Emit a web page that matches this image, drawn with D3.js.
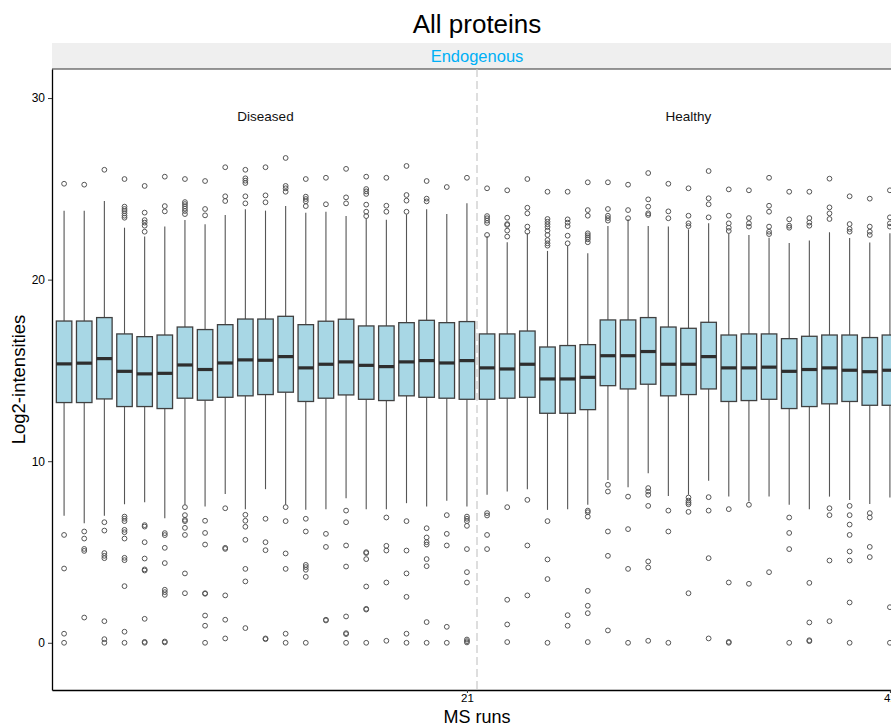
<!DOCTYPE html>
<html>
<head>
<meta charset="utf-8">
<script src="https://cdn.jsdelivr.net/npm/d3@7"></script>
<style>
  html, body { margin: 0; padding: 0; background: #fff; overflow: hidden; }
  svg { display: block; font-family: "Liberation Sans", Arial, Helvetica, sans-serif; }
</style>
</head>
<body>
<svg id="chart" width="891" height="726"></svg>
<script>
// MS run index, 1..42
const runs = d3.range(1, 43);

// Box statistics per run (log2 intensity)
const q3 = [17.72,17.72,17.91,17.01,16.86,16.95,17.39,17.25,17.52,17.83,17.83,17.98,17.52,17.71,17.82,17.45,17.45,17.63,17.76,17.63,17.69,
            17.01,17.01,17.17,16.29,16.37,16.42,17.78,17.78,17.91,17.39,17.32,17.65,16.95,17.01,17.01,16.75,16.88,16.95,16.95,16.81,16.95];
const medians = [15.36,15.40,15.65,14.95,14.81,14.84,15.30,15.05,15.41,15.58,15.56,15.76,15.14,15.34,15.47,15.28,15.21,15.47,15.54,15.41,15.54,
            15.14,15.08,15.34,14.53,14.53,14.62,15.81,15.81,16.04,15.34,15.34,15.76,15.14,15.14,15.18,14.95,15.05,15.14,15.01,14.93,15.01];
const q1 = [13.23,13.23,13.43,13.01,13.01,12.90,13.47,13.36,13.52,13.60,13.67,13.80,13.29,13.47,13.65,13.41,13.34,13.60,13.52,13.47,13.41,
            13.41,13.47,13.52,12.64,12.64,12.84,14.16,13.98,14.24,13.60,13.67,13.98,13.29,13.34,13.41,12.90,13.01,13.16,13.29,13.08,13.08];
const whiskerHigh = [23.80,23.80,24.33,22.86,22.37,22.92,23.28,23.05,23.56,23.87,23.80,24.05,23.69,23.74,23.50,23.38,23.30,23.60,23.87,23.61,24.20,
            22.40,22.06,22.55,21.58,21.87,21.45,22.95,23.32,22.95,22.92,22.77,23.10,22.55,22.46,22.31,22.02,22.15,22.61,22.29,22.04,22.55];
const whiskerLow = [6.99,6.59,6.99,7.63,7.74,6.86,7.60,7.50,8.20,7.36,8.46,7.60,7.32,7.36,7.96,7.36,7.36,7.69,7.50,7.82,7.50,
            8.15,8.33,8.46,7.32,7.36,7.60,8.97,8.57,9.34,8.09,8.15,8.92,8.05,7.78,8.05,7.60,7.36,8.05,7.87,7.65,8.00];

// Outlying values per run
const outliers = [
  [25.28,5.94,4.09,0.50,0.0],
  [25.23,6.13,5.74,5.17,5.06,1.39],
  [26.05,6.64,6.18,4.94,4.79,4.66,1.19,0.20,0.0],
  [25.54,24.02,23.89,23.78,23.65,23.52,23.41,6.95,6.83,6.70,6.22,6.09,5.74,4.68,4.55,3.12,0.61,0.0],
  [25.16,23.69,23.28,23.14,22.97,22.64,6.48,6.40,5.54,4.64,4.04,3.98,1.32,0.05,0.0],
  [25.67,24.05,23.76,6.04,5.93,5.23,4.39,2.92,2.79,2.64,0.07,0.02],
  [25.54,24.27,24.16,24.04,23.91,23.78,23.61,7.47,7.03,6.77,6.70,6.33,5.94,3.82,2.73],
  [25.43,23.89,23.54,6.72,6.05,5.41,2.73,2.70,1.50,0.94,0.0],
  [26.19,24.59,24.33,7.41,5.23,5.17,2.61,1.27,0.24],
  [26.05,25.58,25.45,25.32,24.59,24.20,7.05,6.72,6.39,5.67,4.07,3.38,0.81],
  [26.19,24.64,24.26,6.83,5.54,5.10,0.24,0.20],
  [26.70,25.16,25.03,24.84,7.47,6.70,4.92,4.07,0.50,0.0],
  [25.54,24.57,24.44,24.31,24.05,6.83,6.13,4.29,4.17,4.02,3.63,0.0],
  [25.61,24.15,6.00,5.28,1.27,1.23],
  [26.10,24.53,24.20,7.28,6.64,5.36,4.20,1.45,0.53,0.48,0.0],
  [25.67,24.99,24.86,24.72,24.13,23.74,23.50,4.99,4.94,4.61,3.10,1.87,1.83,0.0],
  [25.61,24.07,23.74,6.90,5.34,5.08,3.32,0.11],
  [26.26,24.66,24.35,23.74,6.70,5.08,3.82,2.53,0.50,0.0],
  [25.43,24.46,24.31,6.31,5.80,5.54,5.41,4.61,4.22,1.14,0.0],
  [25.10,7.03,6.00,5.36,0.88,0.0],
  [25.61,6.95,6.83,6.70,6.44,5.16,3.89,3.32,0.18,0.09,0.02],
  [25.03,23.50,23.38,23.25,23.12,22.46,7.14,7.01,5.94,5.16],
  [24.92,23.41,23.06,23.01,22.70,22.37,7.47,2.37,1.01,0.04],
  [25.54,23.96,23.65,22.92,22.64,7.87,5.36,2.61],
  [24.84,23.34,23.19,23.05,22.90,22.70,22.46,22.18,22.00,21.87,6.70,4.59,3.51,0.0],
  [24.84,23.32,23.14,22.95,22.42,22.00,1.52,0.94],
  [25.36,23.83,23.52,22.55,22.44,22.33,22.22,22.06,7.28,7.19,6.95,2.86,2.04,1.63,0.04],
  [25.36,23.89,23.52,23.39,23.25,8.70,8.33,6.13,4.79,0.68],
  [25.23,23.83,23.38,8.05,6.26,4.07,0.0],
  [25.87,24.42,24.02,23.65,23.56,8.52,8.33,8.15,7.54,4.48,4.15,0.11],
  [25.28,23.76,23.38,7.28,6.13,0.0],
  [25.03,23.52,23.10,22.95,8.00,7.83,7.72,7.63,7.21,2.73],
  [25.98,24.48,24.15,23.43,8.02,7.28,4.66,0.24],
  [24.97,23.52,23.10,22.86,22.68,7.36,3.32,0.05,0.0],
  [24.92,23.39,23.10,22.92,7.60,3.25],
  [25.61,24.07,23.74,22.92,22.64,22.51,3.89],
  [24.84,23.32,22.97,22.86,6.90,6.05,5.16,0.0],
  [24.84,23.39,23.14,22.97,3.30,1.12,0.14,0.09],
  [25.56,23.98,23.65,23.34,7.41,7.03,4.53,1.19],
  [24.59,23.06,22.79,22.64,7.54,7.03,6.51,5.94,5.03,4.53,2.22,0.0],
  [24.46,22.92,22.64,22.46,7.14,6.90,5.28,4.72],
  [24.92,23.43,23.10,22.92,1.96,0.0]
];

// Condition groups and the cumulative run count that ends each group
const groups = ["Diseased", "Healthy"];
const groupEnds = [21, 42];
const yTicks = [0, 10, 20, 30];

const chartTitle = "All proteins";
const stripLabel = "Endogenous";
const xTitle = "MS runs";
const yTitle = "Log2-intensities";

// ---- layout ----
const svg = d3.select("#chart");
const panel = { left: 52, right: 902, top: 69, bottom: 690 };

const x = d3.scaleLinear().domain([0.4, 42.6]).range([panel.left, panel.right]);
const y = d3.scaleLinear().domain([-2.6, 31.6]).range([panel.bottom, panel.top]);

const stats = runs.map((r, i) => ({
  run: r, q1: q1[i], med: medians[i], q3: q3[i],
  lo: whiskerLow[i], hi: whiskerHigh[i], out: outliers[i]
}));

// title
svg.append("text")
  .attr("x", 477).attr("y", 33)
  .attr("text-anchor", "middle")
  .attr("font-size", 26).attr("fill", "#000")
  .text(chartTitle);

// facet strip
svg.append("rect")
  .attr("x", panel.left).attr("y", 43)
  .attr("width", panel.right - panel.left).attr("height", panel.top - 43)
  .attr("fill", "#efefef");
svg.append("text")
  .attr("x", (panel.left + panel.right) / 2).attr("y", 62)
  .attr("text-anchor", "middle")
  .attr("font-size", 16.5).attr("fill", "#00B0F6")
  .text(stripLabel);

// panel top border under the strip
svg.append("line")
  .attr("x1", panel.left).attr("x2", panel.right)
  .attr("y1", panel.top).attr("y2", panel.top)
  .attr("stroke", "#333").attr("stroke-width", 1.2);

const plot = svg.append("g");

// group separator
groupEnds.slice(0, -1).forEach(e => {
  plot.append("line")
    .attr("x1", x(e + 0.5)).attr("x2", x(e + 0.5))
    .attr("y1", panel.top).attr("y2", panel.bottom)
    .attr("stroke", "#c8c8c8").attr("stroke-width", 1.2)
    .attr("stroke-dasharray", "8,4");
});

// group labels
groups.forEach((g, i) => {
  const start = i === 0 ? 1 : groupEnds[i - 1] + 1;
  plot.append("text")
    .attr("x", x((start + groupEnds[i]) / 2))
    .attr("y", y(29))
    .attr("dominant-baseline", "central")
    .attr("text-anchor", "middle")
    .attr("font-size", 13.5).attr("fill", "#111")
    .text(g);
});

const boxW = 15.5;
const boxes = plot.selectAll("g.box").data(stats).enter().append("g").attr("class", "box");

// whiskers
boxes.append("line")
  .attr("x1", d => x(d.run)).attr("x2", d => x(d.run))
  .attr("y1", d => y(d.q3)).attr("y2", d => y(d.hi))
  .attr("stroke", "#555").attr("stroke-width", 1.1);
boxes.append("line")
  .attr("x1", d => x(d.run)).attr("x2", d => x(d.run))
  .attr("y1", d => y(d.q1)).attr("y2", d => y(d.lo))
  .attr("stroke", "#555").attr("stroke-width", 1.1);

// boxes
boxes.append("rect")
  .attr("x", d => x(d.run) - boxW / 2)
  .attr("y", d => y(d.q3))
  .attr("width", boxW)
  .attr("height", d => y(d.q1) - y(d.q3))
  .attr("fill", "#a8d7e5")
  .attr("stroke", "#404040").attr("stroke-width", 1.3);

// medians
boxes.append("line")
  .attr("x1", d => x(d.run) - boxW / 2).attr("x2", d => x(d.run) + boxW / 2)
  .attr("y1", d => y(d.med)).attr("y2", d => y(d.med))
  .attr("stroke", "#2e2e2e").attr("stroke-width", 3.2);

// outliers
boxes.selectAll("circle")
  .data(d => d.out.map(v => ({ run: d.run, v })))
  .enter().append("circle")
  .attr("cx", d => x(d.run)).attr("cy", d => y(d.v))
  .attr("r", 2.4)
  .attr("fill", "none")
  .attr("stroke", "#555").attr("stroke-width", 1);

// axes
const yAxis = d3.axisLeft(y).tickValues(yTicks).tickSize(4).tickSizeOuter(0).tickPadding(3);
const gy = svg.append("g").attr("transform", `translate(${panel.left},0)`).call(yAxis);
gy.select(".domain").attr("stroke", "#000").attr("stroke-width", 1.3);
gy.selectAll(".tick line").attr("stroke", "#333");
gy.selectAll(".tick text").attr("font-size", 12).attr("fill", "#000")
  .attr("font-family", "'Liberation Sans', Arial, sans-serif");

const xAxis = d3.axisBottom(x).tickValues(groupEnds).tickSize(3).tickSizeOuter(0).tickPadding(1);
const gx = svg.append("g").attr("transform", `translate(0,${panel.bottom})`).call(xAxis);
gx.select(".domain").attr("stroke", "#000").attr("stroke-width", 1.3);
gx.selectAll(".tick line").attr("stroke", "#333");
gx.selectAll(".tick text").attr("font-size", 11.5).attr("fill", "#000")
  .attr("font-family", "'Liberation Sans', Arial, sans-serif");

// axis titles
svg.append("text")
  .attr("x", (panel.left + panel.right) / 2).attr("y", 723)
  .attr("text-anchor", "middle")
  .attr("font-size", 18).attr("fill", "#000")
  .text(xTitle);
svg.append("text")
  .attr("transform", `translate(25,${(panel.top + panel.bottom) / 2}) rotate(-90)`)
  .attr("text-anchor", "middle")
  .attr("font-size", 18.5).attr("fill", "#000")
  .text(yTitle);
</script>
</body>
</html>
